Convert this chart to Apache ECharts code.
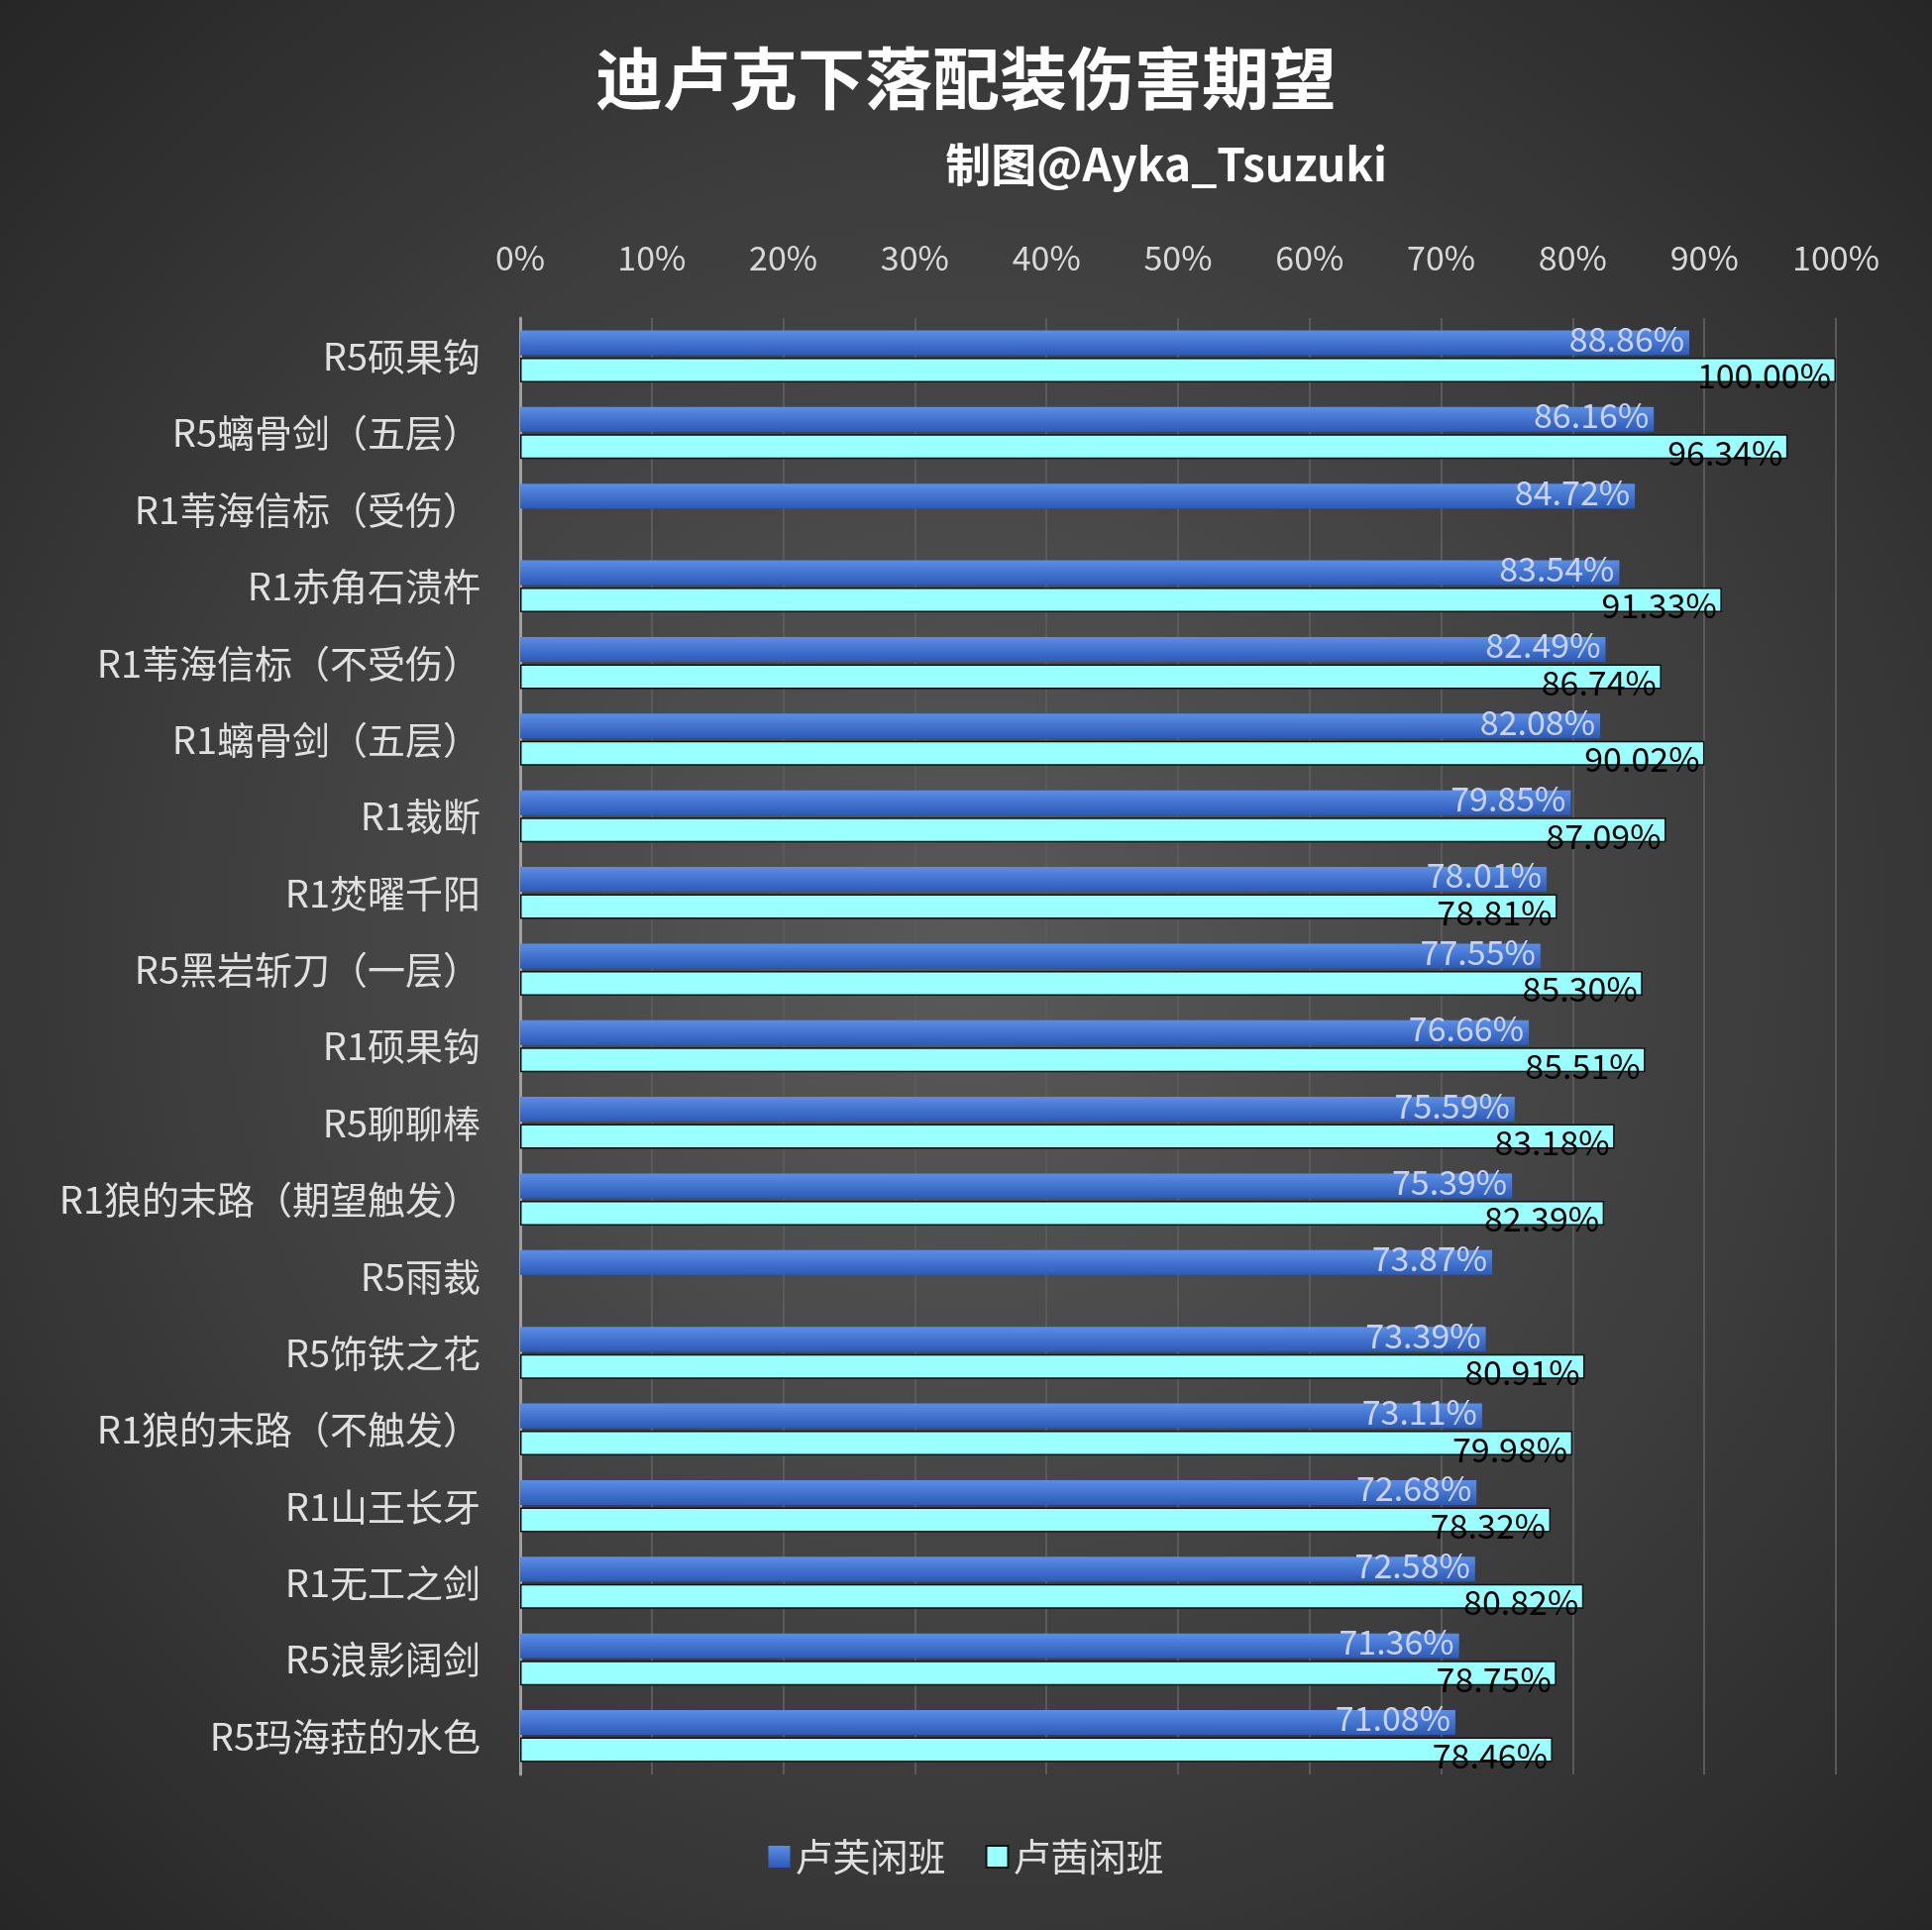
<!DOCTYPE html>
<html><head><meta charset="utf-8">
<script src="https://cdn.jsdelivr.net/npm/echarts@6/dist/echarts.min.js"></script>
<style>html,body{margin:0;padding:0;}#c{width:1950px;height:1948px;background:radial-gradient(ellipse at 50% 50%,#595959 0%,#3c3c3c 60%,#262626 100%);}</style>
</head><body><div id="c"></div>
<script>
const categories=["R5硕果钩","R5螭骨剑（五层）","R1苇海信标（受伤）","R1赤角石溃杵","R1苇海信标（不受伤）","R1螭骨剑（五层）","R1裁断","R1焚曜千阳","R5黑岩斩刀（一层）","R1硕果钩","R5聊聊棒","R1狼的末路（期望触发）","R5雨裁","R5饰铁之花","R1狼的末路（不触发）","R1山王长牙","R1无工之剑","R5浪影阔剑","R5玛海菈的水色"];
const lufu=[88.86,86.16,84.72,83.54,82.49,82.08,79.85,78.01,77.55,76.66,75.59,75.39,73.87,73.39,73.11,72.68,72.58,71.36,71.08];
const luqian=[100.00,96.34,null,91.33,86.74,90.02,87.09,78.81,85.30,85.51,83.18,82.39,null,80.91,79.98,78.32,80.82,78.75,78.46];
const seriesNames=["卢芙闲班","卢茜闲班"];
const font="'Noto Sans CJK SC','Noto Sans',sans-serif";
const ch=echarts.init(document.getElementById('c'));
ch.setOption({
 backgroundColor:'transparent',
 title:[{text:'迪卢克下落配装伤害期望',left:'center',top:40,textStyle:{color:'#fff',fontSize:68,fontWeight:'bold',fontFamily:font}},
        {text:'制图@Ayka_Tsuzuki',right:545,top:138,textStyle:{color:'#fff',fontSize:46,fontWeight:'bold',fontFamily:font}}],
 legend:{bottom:50,left:'center',itemWidth:22,itemHeight:22,itemGap:40,icon:'rect',textStyle:{color:'#e0e0e0',fontSize:38,fontFamily:font},data:seriesNames},
 grid:{left:525,right:97,top:321,bottom:157},
 xAxis:{type:'value',position:'top',min:0,max:100,interval:10,
   axisLabel:{formatter:'{value}%',color:'#d8d8d8',fontSize:34,fontFamily:font,margin:44},
   axisLine:{show:false},axisTick:{show:false},
   splitLine:{lineStyle:{color:'#5a5a5a',width:2}}},
 yAxis:{type:'category',inverse:true,data:categories,
   axisLabel:{color:'#e0e0e0',fontSize:38,fontFamily:font,margin:40},
   axisLine:{lineStyle:{color:'#a0a0a0',width:3}},axisTick:{show:false}},
 series:[
  {name:seriesNames[0],type:'bar',data:lufu,barWidth:25,barGap:'10%',barCategoryGap:'35%',
   itemStyle:{color:new echarts.graphic.LinearGradient(0,0,0,1,[{offset:0,color:'#5a8ee6'},{offset:1,color:'#2c5ab8'}])},
   label:{show:true,position:'insideRight',offset:[0,-4],formatter:p=>p.value.toFixed(2)+'%',color:'#c8d2f5',fontSize:34,fontFamily:font}},
  {name:seriesNames[1],type:'bar',data:luqian,barWidth:25,
   itemStyle:{color:'#99ffff',borderColor:'#111',borderWidth:1.5},
   label:{show:true,position:'insideRight',offset:[0,6],formatter:p=>p.value==null?'':p.value.toFixed(2)+'%',color:'#000',fontSize:34,fontFamily:font}}
 ]
});
</script></body></html>
